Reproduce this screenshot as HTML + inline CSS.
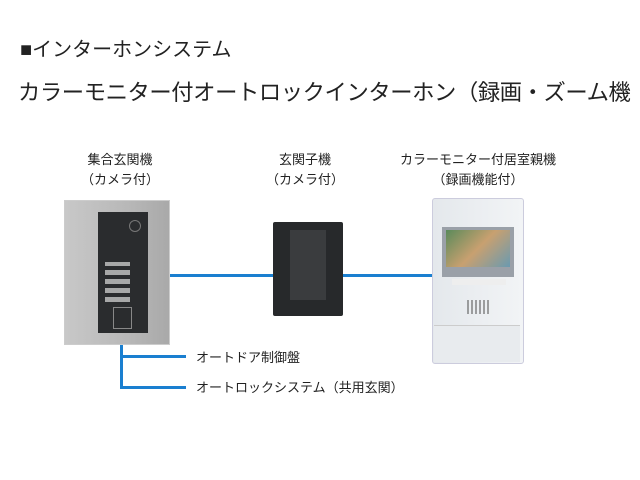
<!DOCTYPE html>
<html><head><meta charset="utf-8"><style>
body{margin:0;width:640px;height:480px;background:#fff;position:relative;overflow:hidden;font-family:"Liberation Sans","Noto Sans CJK JP",sans-serif;color:#222}
.t{position:absolute;white-space:nowrap}
.c{position:absolute;text-align:center;font-size:13px;line-height:20px}
.b{position:absolute;background:#1a7fd0}
</style></head><body>
<div class="t" style="left:20px;top:33px;font-size:20px">■インターホンシステム</div>
<div class="t" style="left:18px;top:75px;font-size:22.3px;letter-spacing:-0.4px">カラーモニター付オートロックインターホン（録画・ズーム機</div>
<div class="c" style="left:60px;width:120px;top:150px">集合玄関機<br>（カメラ付）</div>
<div class="c" style="left:245px;width:120px;top:150px">玄関子機<br>（カメラ付）</div>
<div class="c" style="left:398px;width:160px;top:150px">カラーモニター付居室親機<br>（録画機能付）</div>

<div class="b" style="left:166px;top:274px;width:108px;height:3px"></div>
<div class="b" style="left:342px;top:274px;width:92px;height:3px"></div>
<div class="b" style="left:120px;top:342px;width:3px;height:47px"></div>
<div class="b" style="left:120px;top:355px;width:66px;height:3px"></div>
<div class="b" style="left:120px;top:386px;width:66px;height:3px"></div>
<div class="t" style="left:196px;top:347px;font-size:13px">オートドア制御盤</div>
<div class="t" style="left:196px;top:377px;font-size:13px">オートロックシステム（共用玄関）</div>

<!-- panel 1 -->
<div style="position:absolute;left:64px;top:200px;width:104px;height:143px;background:linear-gradient(90deg,#c8c8c8,#b8b8b8 60%,#a9a9a9);border:1px solid #ccc"></div>
<div style="position:absolute;left:98px;top:212px;width:50px;height:121px;background:#2a2c2e"></div>
<div style="position:absolute;left:129px;top:220px;width:10px;height:10px;border-radius:50%;border:1px solid #777"></div>
<div style="position:absolute;left:105px;top:262px;width:25px;height:40px;background:repeating-linear-gradient(0deg,#ddd 0 5px,transparent 5px 9px);opacity:.7"></div>
<div style="position:absolute;left:113px;top:307px;width:17px;height:20px;border:1px solid #888"></div>
<!-- panel 2 -->
<div style="position:absolute;left:273px;top:222px;width:70px;height:94px;background:#27292b;border-radius:2px"></div>
<div style="position:absolute;left:290px;top:230px;width:36px;height:70px;background:#3a3c3e"></div>
<!-- panel 3 -->
<div style="position:absolute;left:432px;top:198px;width:90px;height:164px;background:linear-gradient(90deg,#e4e8ec,#f2f4f6);border:1px solid #ccd;border-radius:3px"></div>
<div style="position:absolute;left:442px;top:227px;width:72px;height:50px;background:#9aa0a8"></div>
<div style="position:absolute;left:446px;top:230px;width:64px;height:37px;background:linear-gradient(135deg,#5a8a5a,#c8a070,#6a9ab0)"></div>
<div style="position:absolute;left:452px;top:279px;width:54px;height:6px;background:#eee"></div>
<div style="position:absolute;left:467px;top:300px;width:24px;height:14px;background:repeating-linear-gradient(90deg,#666 0 2px,transparent 2px 4px);opacity:.6"></div>
<div style="position:absolute;left:434px;top:325px;width:86px;height:36px;background:#e8ebee;border-top:1px solid #ccc"></div>
</body></html>
